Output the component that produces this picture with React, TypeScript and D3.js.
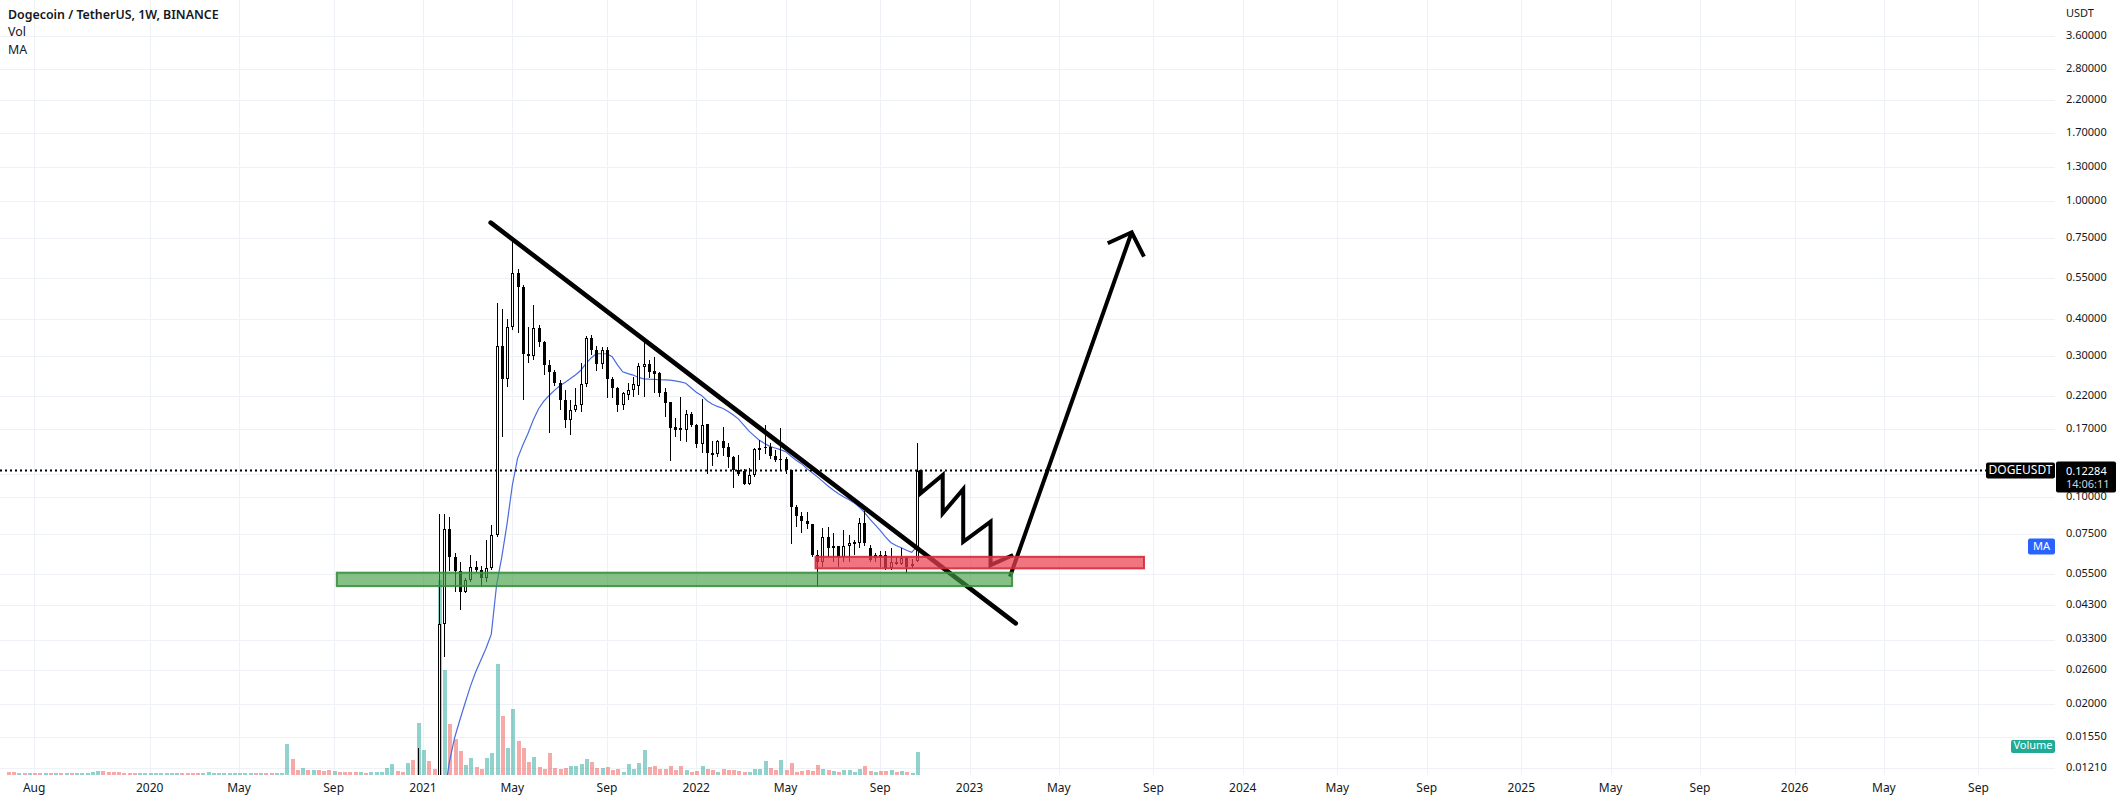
import React from 'react';
import * as d3 from 'd3';

const W = 2120;
const H = 803;
const PANE_RIGHT = 2055;
const PANE_BOTTOM = 775;
const WEEK = 7 * 24 * 3600 * 1000;
const ANCHOR = Date.UTC(2021, 0, 4); // week index 0
const FONT = '"Noto Sans", Roboto, sans-serif';
const INK = '#131722';

// weekly closes / volumes before the visible range (Jul 1 2019 .. Dec 21 2020), weeks -79..-2
const earlyClose = [
  0.0033, 0.0031, 0.0031, 0.0030, 0.0030,
  0.0028, 0.0026, 0.0027, 0.0026,
  0.0026, 0.0025, 0.0025, 0.0023, 0.0024,
  0.0026, 0.0026, 0.0027, 0.0028,
  0.0027, 0.0026, 0.0024, 0.0023,
  0.0022, 0.0021, 0.0020, 0.0020, 0.0020,
  0.0022, 0.0023, 0.0024, 0.0025,
  0.0026, 0.0030, 0.0027, 0.0025,
  0.0022, 0.0016, 0.0017, 0.0017, 0.0019,
  0.0019, 0.0020, 0.0021, 0.0022,
  0.0025, 0.0025, 0.0026, 0.0025,
  0.0026, 0.0025, 0.0024, 0.0024, 0.0025,
  0.0033, 0.0032, 0.0031, 0.0034,
  0.0033, 0.0035, 0.0034, 0.0031, 0.0027,
  0.0028, 0.0027, 0.0026, 0.0025,
  0.00248, 0.0026, 0.0025, 0.0026,
  0.0027, 0.0028, 0.0032, 0.0034, 0.0033,
  0.0032, 0.0045, 0.0044,
];
const earlyVolume = [
  0.6, 0.6, 0.5, 0.4, 0.4,
  0.4, 0.4, 0.5, 0.4,
  0.4, 0.4, 0.5, 0.4, 0.4,
  0.5, 0.5, 0.6, 0.8,
  0.9, 0.7, 0.6, 0.6,
  0.5, 0.5, 0.4, 0.4, 0.4,
  0.5, 0.4, 0.4, 0.4,
  0.4, 0.4, 0.4, 0.4,
  0.5, 0.4, 0.4, 0.6, 0.4,
  0.4, 0.4, 0.4, 0.5,
  0.4, 0.5, 0.4, 0.4,
  0.4, 0.4, 0.4, 0.4, 0.4,
  6.2, 3.2, 1.0, 1.4,
  1.0, 1.0, 1.0, 0.9, 1.0,
  0.8, 0.7, 0.7, 0.55,
  0.55, 0.55, 0.5, 0.7,
  0.7, 0.7, 1.35, 2.2, 0.85,
  0.7, 2.5, 3.0,
];

// weekly candles, Dec 28 2020 (week -1) .. Oct 24 2022 (week 94)
const open = [
  0.0044, 0.0093, 0.0097, 0.0091, 0.0075, 0.0372, 0.0778, 0.0625, 0.0561, 0.0479,
  0.0524, 0.0580, 0.0566, 0.0533, 0.0574, 0.0744, 0.324, 0.2497, 0.3745, 0.5697,
  0.5136, 0.304, 0.300, 0.3715, 0.335, 0.279, 0.265, 0.243, 0.213, 0.182,
  0.197, 0.204, 0.241, 0.344, 0.314, 0.281, 0.314, 0.250, 0.233, 0.204,
  0.221, 0.230, 0.237, 0.275, 0.281, 0.266, 0.263, 0.227, 0.209, 0.172,
  0.171, 0.169, 0.190, 0.175, 0.151, 0.176, 0.141, 0.140, 0.154, 0.148,
  0.136, 0.123, 0.122, 0.111, 0.119, 0.144, 0.146, 0.148, 0.138, 0.133,
  0.134, 0.123, 0.0928, 0.0860, 0.0832, 0.0809, 0.0636, 0.0605, 0.0732, 0.0675,
  0.0685, 0.0628, 0.0685, 0.0693, 0.0700, 0.0817, 0.0670, 0.0624, 0.0636, 0.0636,
  0.0574, 0.0605, 0.0593, 0.0621, 0.0585, 0.0607,
];
const high = [
  0.0142, 0.0113, 0.0107, 0.0098, 0.0877, 0.0877, 0.0856, 0.0648, 0.0605, 0.0532,
  0.0636, 0.0607, 0.0584, 0.0716, 0.0805, 0.452, 0.431, 0.399, 0.738, 0.588,
  0.520, 0.376, 0.447, 0.381, 0.337, 0.290, 0.268, 0.248, 0.229, 0.213,
  0.233, 0.283, 0.350, 0.353, 0.324, 0.322, 0.322, 0.255, 0.236, 0.226,
  0.242, 0.255, 0.283, 0.335, 0.290, 0.298, 0.265, 0.233, 0.210, 0.185,
  0.218, 0.197, 0.194, 0.176, 0.214, 0.176, 0.154, 0.156, 0.173, 0.152,
  0.138, 0.139, 0.124, 0.125, 0.146, 0.156, 0.175, 0.152, 0.144, 0.171,
  0.137, 0.123, 0.094, 0.0892, 0.0892, 0.0812, 0.066, 0.0785, 0.0794, 0.0755,
  0.0685, 0.0774, 0.0743, 0.0717, 0.0847, 0.0897, 0.0686, 0.0646, 0.0655, 0.0655,
  0.067, 0.0628, 0.067, 0.0625, 0.0616, 0.152,
];
const low = [
  0.0043, 0.0078, 0.0080, 0.0072, 0.0072, 0.0289, 0.0561, 0.0479, 0.0416, 0.0475,
  0.0515, 0.0560, 0.0497, 0.0518, 0.0565, 0.0735, 0.160, 0.235, 0.368, 0.357,
  0.213, 0.283, 0.290, 0.320, 0.258, 0.164, 0.238, 0.196, 0.171, 0.162,
  0.194, 0.194, 0.236, 0.302, 0.267, 0.270, 0.216, 0.216, 0.194, 0.196,
  0.213, 0.217, 0.221, 0.218, 0.252, 0.224, 0.218, 0.187, 0.132, 0.160,
  0.154, 0.153, 0.173, 0.146, 0.141, 0.120, 0.127, 0.136, 0.138, 0.125,
  0.107, 0.118, 0.110, 0.110, 0.117, 0.133, 0.140, 0.134, 0.131, 0.123,
  0.120, 0.0695, 0.0794, 0.0755, 0.078, 0.0628, 0.0497, 0.058, 0.0628, 0.0605,
  0.058, 0.0605, 0.0605, 0.0636, 0.067, 0.0683, 0.0605, 0.0605, 0.058, 0.0568,
  0.0568, 0.0589, 0.0589, 0.0555, 0.0577, 0.0605,
];
const close = [
  0.0093, 0.0097, 0.0091, 0.0075, 0.0372, 0.0778, 0.0625, 0.0561, 0.0479, 0.0524,
  0.0580, 0.0566, 0.0533, 0.0574, 0.0744, 0.324, 0.2497, 0.3745, 0.5697, 0.5136,
  0.304, 0.300, 0.3715, 0.335, 0.279, 0.265, 0.243, 0.213, 0.182, 0.197,
  0.204, 0.241, 0.344, 0.314, 0.281, 0.314, 0.250, 0.233, 0.204, 0.224,
  0.230, 0.240, 0.277, 0.281, 0.265, 0.260, 0.225, 0.207, 0.171, 0.169,
  0.168, 0.190, 0.175, 0.151, 0.175, 0.141, 0.139, 0.154, 0.146, 0.136,
  0.123, 0.120, 0.111, 0.119, 0.145, 0.146, 0.148, 0.138, 0.133, 0.134,
  0.123, 0.0928, 0.0860, 0.0832, 0.0809, 0.0636, 0.0605, 0.0732, 0.0670, 0.0685,
  0.0628, 0.0685, 0.0700, 0.0704, 0.0817, 0.0700, 0.0612, 0.0635, 0.0629, 0.0574,
  0.0605, 0.0594, 0.0621, 0.0580, 0.0595, 0.12284,
];
const volume = [
  10.4, 5.0, 2.8, 1.2, 39, 21, 10.2, 7.2, 4.8, 2.0,
  3.4, 1.6, 1.3, 3.4, 4.4, 22.2, 11.8, 5.4, 13.2, 6.8,
  5.4, 2.6, 3.6, 1.6, 1.2, 4.4, 1.4, 1.2, 1.4, 1.8,
  1.8, 2.2, 3.2, 2.6, 1.4, 1.4, 1.6, 1.0, 1.2, 0.65,
  2.2, 1.2, 2.4, 5.0, 1.6, 1.8, 1.2, 1.2, 1.8, 1.0,
  1.8, 1.0, 0.6, 0.75, 1.8, 1.2, 0.95, 0.55, 1.2, 0.95,
  1.0, 0.75, 0.55, 0.55, 1.2, 1.2, 2.8, 1.4, 1.0, 3.0,
  1.0, 2.4, 0.55, 0.8, 1.0, 0.8, 2.0, 1.2, 1.0, 0.8,
  0.55, 1.0, 1.0, 0.55, 1.2, 1.8, 0.75, 0.55, 0.75, 0.8,
  1.0, 0.55, 0.8, 0.55, 0.4, 4.6,
];

const priceTicks = [3.6, 2.8, 2.2, 1.7, 1.3, 1.0, 0.75, 0.55, 0.4, 0.3, 0.22, 0.17, 0.12, 0.1, 0.075, 0.055, 0.043, 0.033, 0.026, 0.02, 0.0155, 0.0121];
const timeTicks = [
  '2019-08-05', '2020-01-06', '2020-05-04', '2020-09-07', '2021-01-04', '2021-05-03', '2021-09-06',
  '2022-01-03', '2022-05-02', '2022-09-05', '2023-01-02', '2023-05-01', '2023-09-04', '2024-01-01',
  '2024-05-06', '2024-09-02', '2025-01-06', '2025-05-05', '2025-09-01', '2026-01-05', '2026-05-04', '2026-09-07',
];

// drawings, in (weeks from Jan 4 2021, price)
const trendLine = [{ w: 12.88, p: 0.845 }, { w: 112.8, p: 0.0374 }];
const greenZone = { w0: -16.4, w1: 112.1, pTop: 0.0555, pBottom: 0.05 };
const redZone = { w0: 74.7, w1: 137.2, pTop: 0.0628, pBottom: 0.0574 };
const zigzag = [
  { w: 94.71, p: 0.1233 }, { w: 94.71, p: 0.1029 }, { w: 98.9, p: 0.1187 }, { w: 98.9, p: 0.0881 },
  { w: 102.8, p: 0.1062 }, { w: 102.8, p: 0.0706 }, { w: 108.0, p: 0.0825 }, { w: 108.0, p: 0.0589 },
  { w: 112.3, p: 0.0637 },
];
const arrowShaft = [{ w: 111.7, p: 0.0538 }, { w: 134.86, p: 0.784 }];
const arrowHead = [{ w: 130.3, p: 0.7198 }, { w: 134.86, p: 0.784 }, { w: 137.2, p: 0.6483 }];

const MA_LEN = 20;
const LAST_TIME = '14:06:11';

export default function App() {
  const wk = (w: number) => new Date(ANCHOR + w * WEEK);
  const x = d3.scaleUtc()
    .domain([new Date(ANCHOR), new Date(Date.UTC(2026, 0, 5))])
    .range([423, 423 + 261 * 5.255]);
  const y = d3.scaleLog().domain([1, 0.1]).range([201, 497]);
  const yv = d3.scaleLinear().domain([0, 40]).range([PANE_BOTTOM, PANE_BOTTOM - 200]);

  const allClose = [...earlyClose, ...close];
  const allVolume = [...earlyVolume, ...volume];
  const nEarly = earlyClose.length;
  const weekOf = (i: number) => i - nEarly - 1; // global index -> week number

  const maPts: [number, number][] = [];
  for (let i = MA_LEN - 1; i < allClose.length; i++) {
    const m = d3.mean(allClose.slice(i - MA_LEN + 1, i + 1)) as number;
    maPts.push([x(wk(weekOf(i))), y(m)]);
  }
  const maLast = d3.mean(allClose.slice(allClose.length - MA_LEN)) as number;
  const line = d3.line<[number, number]>();
  const pt = (d: { w: number; p: number }): [number, number] => [x(wk(d.w)), y(d.p)];

  const lastClose = close[close.length - 1];
  const yLast = y(lastClose);
  const yMa = y(maLast);
  const lastVol = volume[volume.length - 1];
  const yVolLast = yv(lastVol) - 6;

  const volBars = allVolume.map((v, i) => {
    let up: boolean;
    if (i < nEarly) up = i > 0 && earlyClose[i] >= earlyClose[i - 1];
    else up = close[i - nEarly] >= open[i - nEarly];
    const cx = Math.round(x(wk(weekOf(i))));
    const top = Math.round(yv(v));
    return (
      <rect key={'v' + i} x={cx - 1.5} y={top} width={4} height={PANE_BOTTOM - top}
        fill={up ? 'rgba(38,166,154,0.5)' : 'rgba(239,83,80,0.5)'} />
    );
  });

  const candles = close.map((c, j) => {
    const o = open[j];
    const cx = Math.round(x(wk(j - 1)));
    const yh = Math.round(y(high[j]));
    const yl = Math.round(y(low[j]));
    const yt = Math.round(y(Math.max(o, c)));
    const yb = Math.round(y(Math.min(o, c)));
    const bh = Math.max(1, yb - yt);
    const up = c >= o;
    return (
      <g key={'c' + j}>
        <rect x={cx} y={yh} width={1} height={Math.max(1, yl - yh)} fill="#000" />
        <rect x={cx - 1} y={yt} width={3} height={bh} fill="#000" />
        {up && bh > 2 ? <rect x={cx} y={yt + 1} width={1} height={bh - 2} fill="#fff" /> : null}
      </g>
    );
  });

  const zoneRect = (z: { w0: number; w1: number; pTop: number; pBottom: number }, fill: string, stroke: string, key: string) => {
    const x0 = x(wk(z.w0));
    const x1 = x(wk(z.w1));
    const y0 = y(z.pTop);
    const y1 = y(z.pBottom);
    return <rect key={key} x={x0} y={y0} width={x1 - x0} height={y1 - y0} fill={fill} stroke={stroke} strokeWidth={2} />;
  };

  return (
    <svg width={W} height={H} style={{ position: 'absolute', left: 0, top: 0, background: '#fff' }} fontFamily={FONT}>
      <defs>
        <clipPath id="pane"><rect x={0} y={0} width={PANE_RIGHT} height={PANE_BOTTOM} /></clipPath>
      </defs>
      <rect x={0} y={0} width={W} height={H} fill="#fff" />
      {/* grid */}
      <g stroke="#eef1f6" strokeWidth={1} shapeRendering="crispEdges">
        {timeTicks.map((t) => {
          const xx = Math.round(x(new Date(t + 'T00:00:00Z'))) + 0.5;
          return <line key={t} x1={xx} x2={xx} y1={0} y2={PANE_BOTTOM} />;
        })}
        {priceTicks.map((p) => {
          const yy = Math.round(y(p)) + 0.5;
          return <line key={p} x1={0} x2={PANE_RIGHT} y1={yy} y2={yy} />;
        })}
      </g>
      <g clipPath="url(#pane)">
        <g shapeRendering="crispEdges">{volBars}</g>
        <path d={line(maPts) || ''} fill="none" stroke="#4a6be0" strokeWidth={1.2} />
        <g shapeRendering="crispEdges">{candles}</g>
        {/* last price dotted line */}
        <line x1={0} x2={1986} y1={yLast} y2={yLast} stroke="#000" strokeWidth={2} strokeDasharray="2 3" />
        {/* drawings */}
        <path d={line(trendLine.map(pt)) || ''} fill="none" stroke="#000" strokeWidth={4.6} strokeLinecap="round" />
        <path d={line(zigzag.map(pt)) || ''} fill="none" stroke="#000" strokeWidth={4} strokeLinejoin="miter" />
        <path d={line(arrowShaft.map(pt)) || ''} fill="none" stroke="#000" strokeWidth={4} />
        <path d={line(arrowHead.map(pt)) || ''} fill="none" stroke="#000" strokeWidth={4} strokeLinejoin="miter" />
        {zoneRect(greenZone, 'rgba(67,160,71,0.65)', 'rgba(56,142,60,0.9)', 'gz')}
        {zoneRect(redZone, 'rgba(236,64,80,0.72)', 'rgba(215,40,55,0.9)', 'rz')}
      </g>
      {/* legend */}
      <text x={8} y={16} fontSize={12.4} fontWeight={600} fill={INK} dominantBaseline="middle">Dogecoin / TetherUS, 1W, BINANCE</text>
      <text x={8} y={33} fontSize={12.4} fill={INK} dominantBaseline="middle">Vol</text>
      <text x={8} y={51} fontSize={12.4} fill={INK} dominantBaseline="middle">MA</text>
      {/* price axis */}
      <text x={2066} y={14} fontSize={11} fill={INK} dominantBaseline="middle">USDT</text>
      {priceTicks.map((p) => (
        <text key={'pl' + p} x={2066} y={y(p)} fontSize={11} fill={INK} dominantBaseline="middle">{p.toFixed(5)}</text>
      ))}
      {/* time axis */}
      {timeTicks.map((t) => {
        const d = new Date(t + 'T00:00:00Z');
        const lbl = d.getUTCMonth() === 0 ? d3.utcFormat('%Y')(d) : d3.utcFormat('%b')(d);
        return (
          <text key={'tl' + t} x={x(d)} y={789} fontSize={12} fill={INK} textAnchor="middle" dominantBaseline="middle">{lbl}</text>
        );
      })}
      {/* symbol + last price labels */}
      <rect x={1986} y={yLast - 8} width={69} height={16} rx={2} fill="#000" />
      <text x={2020.5} y={yLast} fontSize={12} fill="#fff" textAnchor="middle" dominantBaseline="middle">DOGEUSDT</text>
      <rect x={2056} y={yLast - 9} width={60} height={31} rx={2} fill="#000" />
      <text x={2066} y={yLast + 1} fontSize={11} fill="#fff" dominantBaseline="middle">{lastClose.toFixed(5)}</text>
      <text x={2066} y={yLast + 14} fontSize={11} fill="#d1d4dc" dominantBaseline="middle">{LAST_TIME}</text>
      {/* indicator badges */}
      <rect x={2028} y={yMa - 8} width={27} height={16} rx={2} fill="#2962ff" />
      <text x={2041.5} y={yMa} fontSize={11} fill="#fff" textAnchor="middle" dominantBaseline="middle">MA</text>
      <rect x={2011} y={yVolLast - 6} width={44} height={13} rx={2} fill="#22ab94" />
      <text x={2033} y={yVolLast + 0.5} fontSize={11} fill="#fff" textAnchor="middle" dominantBaseline="middle">Volume</text>
    </svg>
  );
}
